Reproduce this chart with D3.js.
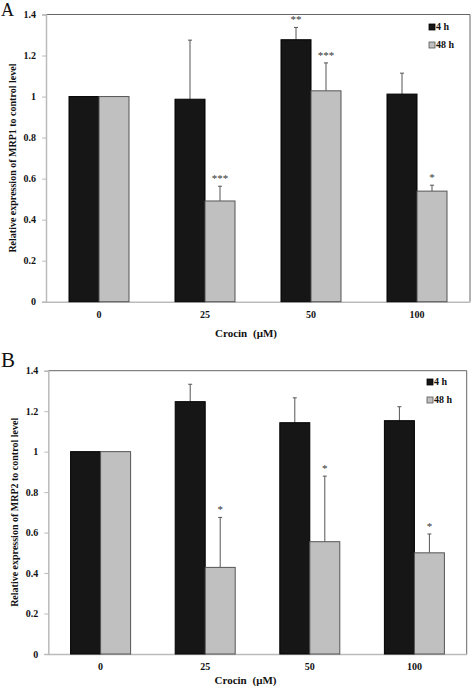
<!DOCTYPE html>
<html><head><meta charset="utf-8">
<script src="https://cdn.jsdelivr.net/npm/d3@7"></script>
<style>body{margin:0;background:#fff}svg{display:block}text{font-family:"Liberation Serif","DejaVu Serif",serif}</style>
</head><body>
<svg id="c" width="472" height="689"></svg>
<script>
const categories = ["0","25","50","100"];
const seriesNames = ["4 h","48 h"];
const yTicks = [0,0.2,0.4,0.6,0.8,1,1.2,1.4];
const yTickLabels = ["0","0.2","0.4","0.6","0.8","1","1.2","1.4"];
// Panel A (MRP1)
const a4h = [1.0, 0.987, 1.277, 1.012];
const a4hErr = [0, 0.288, 0.06, 0.102];
const a48h = [1.0, 0.491, 1.028, 0.539];
const a48hErr = [0, 0.072, 0.136, 0.029];
const a4hStars = ["", "", "**", ""];
const a48hStars = ["", "***", "***", "*"];
// Panel B (MRP2)
const b4h = [1.0, 1.247, 1.143, 1.153];
const b4hErr = [0, 0.086, 0.123, 0.069];
const b48h = [1.0, 0.428, 0.555, 0.5];
const b48hErr = [0, 0.247, 0.324, 0.093];
const b4hStars = ["", "", "", ""];
const b48hStars = ["", "*", "*", "*"];

const svg = d3.select("#c");
const colors = ["#161616", "#c0c0c0"];

function panel(o) {
  const g = svg.append("g");
  const x = d3.scaleBand().domain(categories).range([o.left, o.right]);
  const y = d3.scaleLinear().domain([0, 1.4]).range([o.bottom, o.top]);
  const bw = 30;
  g.append("line").attr("x1", o.left).attr("x2", o.right).attr("y1", o.top).attr("y2", o.top).attr("stroke", "#666");
  g.append("line").attr("x1", o.right).attr("x2", o.right).attr("y1", o.top).attr("y2", o.bottom).attr("stroke", "#666");
  const ya = d3.axisLeft(y).tickValues(yTicks).tickFormat((d, i) => yTickLabels[i]).tickSize(4).tickPadding(6);
  const yg = g.append("g").attr("transform", `translate(${o.left},0)`).call(ya);
  yg.select(".domain").attr("stroke", "#bbb").attr("stroke-width", 1.5);
  yg.selectAll(".tick line").attr("stroke", "#bbb");
  yg.selectAll("text").attr("font-family", "Liberation Serif").attr("font-weight", "bold").attr("font-size", 10).attr("fill", "#111");
  const xa = d3.axisBottom(x).tickSize(0).tickPadding(9);
  const xg = g.append("g").attr("transform", `translate(0,${o.bottom})`).call(xa);
  xg.select(".domain").attr("stroke", "#bbb").attr("stroke-width", 1.5);
  xg.selectAll("text").attr("font-family", "Liberation Serif").attr("font-weight", "bold").attr("font-size", 10).attr("fill", "#111");
  const series = [[o.s1, o.e1, o.st1], [o.s2, o.e2, o.st2]];
  series.forEach(([vals, errs, stars], si) => {
    categories.forEach((c, i) => {
      const cx = x(c) + x.bandwidth() / 2;
      const bx = si === 0 ? cx - bw : cx;
      const mid = bx + bw / 2;
      if (errs[i] > 0) {
        g.append("line").attr("x1", mid).attr("x2", mid).attr("y1", y(vals[i])).attr("y2", y(vals[i] + errs[i])).attr("stroke", "#555");
        g.append("line").attr("x1", mid - 2).attr("x2", mid + 2).attr("y1", y(vals[i] + errs[i])).attr("y2", y(vals[i] + errs[i])).attr("stroke", "#555");
      }
      g.append("rect").attr("x", bx).attr("width", bw).attr("y", y(vals[i])).attr("height", y(0) - y(vals[i]))
        .attr("fill", colors[si]).attr("stroke", si === 0 ? "#000" : "#555").attr("stroke-width", 1);
      if (stars[i]) {
        g.append("text").attr("x", mid).attr("y", y(vals[i] + errs[i]) - 4).attr("text-anchor", "middle")
          .attr("font-size", 11).attr("fill", "#333").text(stars[i]);
      }
    });
  });
  seriesNames.forEach((n, i) => {
    const ly = o.legY + i * 18;
    g.append("rect").attr("x", o.legX).attr("y", ly - 6).attr("width", 6).attr("height", 6)
      .attr("fill", colors[i]).attr("stroke", i === 0 ? "#000" : "#555").attr("stroke-width", 0.8);
    g.append("text").attr("x", o.legX + 7).attr("y", ly).attr("font-size", 10).attr("font-weight", "bold").attr("fill", "#111").text(n);
  });
  g.append("text").attr("x", (o.left + o.right) / 2 - 12).attr("y", o.bottom + o.xtDy).attr("text-anchor", "middle")
    .attr("font-size", 11).attr("font-weight", "bold").attr("fill", "#111").attr("word-spacing", 3).text("Crocin (μM)");
  g.append("text").attr("transform", `translate(${o.ytx},${(o.top + o.bottom) / 2}) rotate(-90)`).attr("text-anchor", "middle")
    .attr("font-size", 10).attr("font-weight", "bold").attr("fill", "#111").text(o.ytitle);
  g.append("text").attr("x", 1).attr("y", o.letterY).attr("font-size", o.letterSize).attr("fill", "#111").text(o.letter);
}

panel({left: 46, right: 470, top: 14.5, bottom: 301.7, s1: a4h, e1: a4hErr, st1: a4hStars, s2: a48h, e2: a48hErr, st2: a48hStars,
  legX: 429, legY: 30, ytx: 16, xtDy: 35, ytitle: "Relative expression of MRP1 to control level", letter: "A", letterY: 16, letterSize: 18});
panel({left: 48.3, right: 466.7, top: 370.7, bottom: 654, s1: b4h, e1: b4hErr, st1: b4hStars, s2: b48h, e2: b48hErr, st2: b48hStars,
  legX: 427, legY: 385, ytx: 18, xtDy: 30, ytitle: "Relative expression of MRP2 to control level", letter: "B", letterY: 367, letterSize: 21});
</script>
</body></html>
